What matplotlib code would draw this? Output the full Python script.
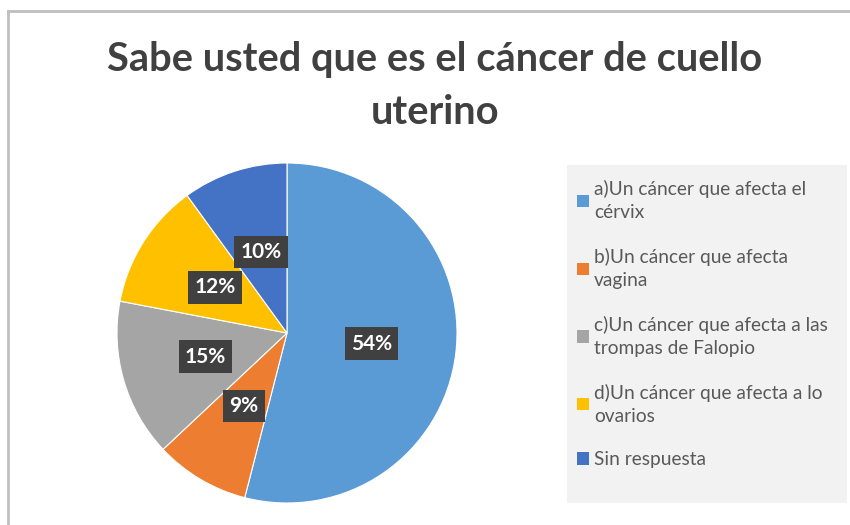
import matplotlib.pyplot as plt
from matplotlib.patches import Rectangle

# Data
categories = [
    "a)Un cáncer que afecta el\ncérvix",
    "b)Un cáncer que afecta\nvagina",
    "c)Un cáncer que afecta a las\ntrompas de Falopio",
    "d)Un cáncer que afecta a lo\novarios",
    "Sin respuesta",
]
percentages = [54, 9, 15, 12, 10]
colors = ["#5B9BD5", "#ED7D31", "#A5A5A5", "#FFC000", "#4472C4"]

title = "Sabe usted que es el cáncer de cuello\nuterino"

plt.rcParams["font.family"] = ["Lato", "DejaVu Sans"]

W, H = 850, 525
fig = plt.figure(figsize=(W / 100, H / 100), dpi=100)

# outer frame (top and left only, as in the picture)
fig.add_artist(plt.Line2D([8 / W, 8 / W], [0, 1 - 11 / H], color="#BFBFBF", lw=2))
fig.add_artist(plt.Line2D([8 / W, 1], [1 - 11 / H, 1 - 11 / H], color="#BFBFBF", lw=2))

# legend background
fig.add_artist(Rectangle((567 / W, 1 - 503 / H), 280 / W, 338 / H,
                         transform=fig.transFigure, facecolor="#F2F2F2",
                         edgecolor="none", zorder=0))

cx, cy, r = 287, 333, 170
ax = fig.add_axes([(cx - r) / W, (H - cy - r) / H, 2 * r / W, 2 * r / H])

wedges, texts = ax.pie(
    percentages,
    colors=colors,
    startangle=90,
    counterclock=False,
    labels=[f"{p}%" for p in percentages],
    labeldistance=0.5,
    wedgeprops=dict(edgecolor="white", linewidth=0.8),
    textprops=dict(color="white", fontsize=15, fontweight="bold"),
)
for t in texts:
    t.set_ha("center")
    t.set_va("center")
    t.set_bbox(dict(boxstyle="square,pad=0.3", facecolor="#404040", edgecolor="none"))
ax.set_xlim(-1, 1)
ax.set_ylim(-1, 1)
ax.set_aspect("equal")

fig.text(435 / W, 1 - 86 / H, title, ha="center", va="center",
         fontsize=28.7, fontweight="bold", color="#404040", linespacing=1.55)

leg = fig.legend(
    wedges, categories,
    loc="upper left", bbox_to_anchor=(577 / W, 1 - 180 / H),
    frameon=False, fontsize=13.8, labelcolor="#595959",
    handlelength=0.6, handleheight=0.6, handletextpad=0.3,
    labelspacing=1.38, borderaxespad=0, borderpad=0,
)
for h in leg.legend_handles:
    h.set_edgecolor("none")
for t in leg.get_texts():
    t.set_linespacing(1.45)

fig.savefig("out.png", dpi=100, facecolor="white")
